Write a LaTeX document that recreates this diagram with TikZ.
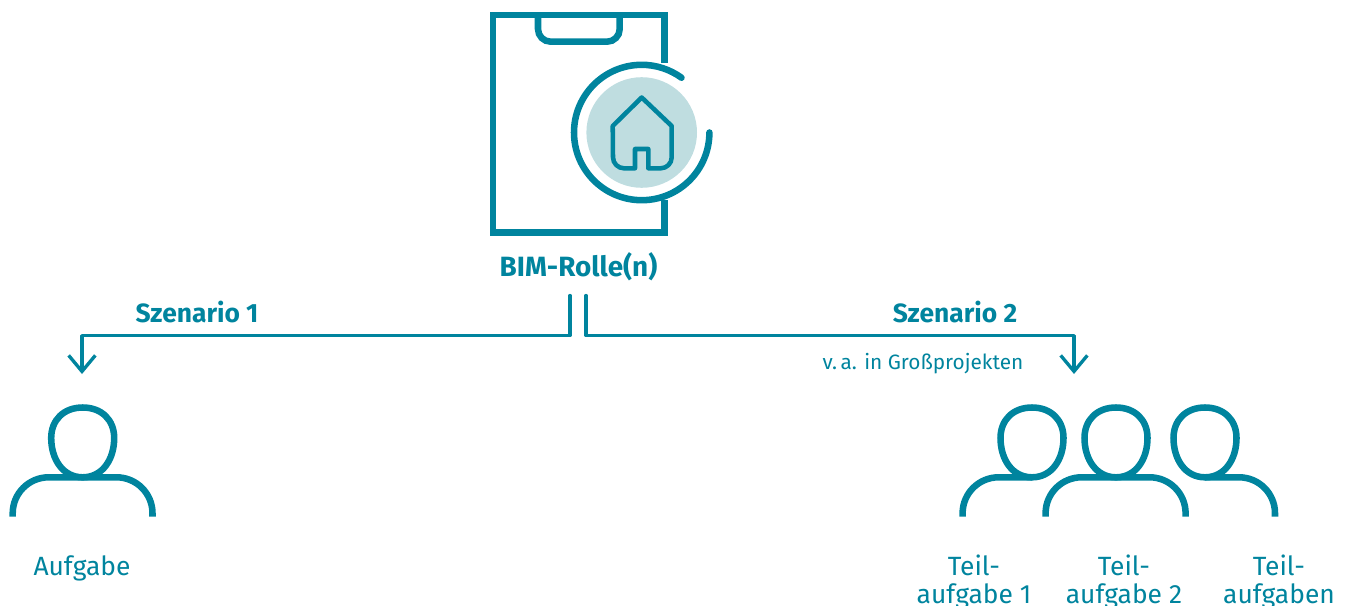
\documentclass[tikz,border=0pt]{standalone}
\usepackage{fontspec}
\setmainfont{Fira Sans}
\usetikzlibrary{arrows.meta}
\definecolor{teal}{HTML}{00849E}
\definecolor{disk}{HTML}{BFDDE0}
\tikzset{
  thick line/.style={draw=teal,line width=4.9pt},
  house line/.style={draw=teal,line width=3.4pt,line join=round,line cap=round},
  link/.style={draw=teal,line width=2.5pt,line join=round,line cap=round,
    -{Straight Barb[length=12pt,width=20pt,line width=2.5pt]}},
  label/.style={text=teal,anchor=base,inner sep=0pt,align=center,font=\fontsize{19.8}{21.2}\selectfont},
  bold label/.style={label,font=\fontsize{19.8}{21}\selectfont\bfseries},
  title label/.style={label,font=\fontsize{20.9}{21}\selectfont\bfseries},
  small label/.style={label,font=\fontsize{15.6}{17}\selectfont},
}
\newcommand{\personhead}[1]{%
  \draw[thick line] (#1,407.5) .. controls (#1+19,407.5) and (#1+31.5,420) .. (#1+31.5,438)
    .. controls (#1+31.5,459) and (#1+20,477.3) .. (#1,477.3)
    .. controls (#1-20,477.3) and (#1-31.5,459) .. (#1-31.5,438)
    .. controls (#1-31.5,420) and (#1-19,407.5) .. (#1,407.5) -- cycle;}
\begin{document}
\begin{tikzpicture}[x=0.75pt,y=-0.75pt]
\clip (0,0) rectangle (1349,606);
\useasboundingbox (0,0) rectangle (1349,606);
% clipboard
\draw[thick line,line join=miter] (664.5,63) -- (664.5,15) -- (493,15) -- (493,232.5) -- (664.5,232.5) -- (664.5,200);
\draw[thick line] (538,15) -- (538,29) arc[start angle=180,end angle=270,radius=12.7,y radius=-12.7] -- (607,41.7) arc[start angle=270,end angle=360,radius=12.7,y radius=-12.7] -- (619.7,15);
% badge
\fill[disk] (641.7,132.5) circle[radius=55.3];
\draw[thick line,line cap=round] (709.4,132.5) arc[start angle=360,end angle=54,radius=67.7,y radius=-67.7];
% house
\draw[house line] (635,168.3) -- (624,168.3) arc[start angle=270,end angle=180,radius=11,y radius=-11]
  -- (612.7,126) -- (641.7,97.5) -- (671.7,126) -- (671.7,157.3)
  arc[start angle=0,end angle=-90,radius=11,y radius=-11] -- (648.3,168.3) -- (648.3,149) -- (635,149) -- cycle;
% persons
\personhead{82.7}
\draw[thick line] (12.7,516.5) -- (12.7,513.3) arc[start angle=180,end angle=90,radius=36,y radius=-36] -- (116.5,477.3)
  arc[start angle=90,end angle=0,radius=36,y radius=-36] -- (152.5,516.5);
\personhead{1032}
\personhead{1116}
\personhead{1205}
\draw[thick line] (962.6,516.5) -- (962.6,513.3) arc[start angle=180,end angle=90,radius=36,y radius=-36] -- (1032,477.3);
\draw[thick line] (1045.6,516.5) -- (1045.6,513.3) arc[start angle=180,end angle=90,radius=36,y radius=-36] -- (1149.6,477.3)
  arc[start angle=90,end angle=0,radius=36,y radius=-36] -- (1185.6,516.5);
\draw[thick line] (1205,477.3) -- (1239,477.3) arc[start angle=90,end angle=0,radius=36,y radius=-36] -- (1275,516.5);
% labels
\node[title label] (bim) at (578.5,276.7) {BIM-Rolle(n)};
\node[bold label] (s1) at (197,322.7) {Szenario 1};
\node[bold label] (s2) at (955,322.7) {Szenario 2};
\node[small label] (note) at (923,369) {v.\,a. in Großprojekten};
\node[label] (a0) at (82,575) {Aufgabe};
\node[label] (a1) at (974,603.3) {Teil-\\aufgabe 1};
\node[label] (a2) at (1124,603.3) {Teil-\\aufgabe 2};
\node[label] (a3) at (1279,603.3) {Teil-\\aufgaben};
% connectors
\coordinate (startL) at (570,295.5);
\coordinate (startR) at (586,295.5);
\coordinate (tipL) at (82,374);
\coordinate (tipR) at (1074,374);
\draw[link] (startL) -- (570,335.7) -- (82,335.7) -- (tipL);
\draw[link] (startR) -- (586,335.7) -- (1074,335.7) -- (tipR);
\end{tikzpicture}
\end{document}
